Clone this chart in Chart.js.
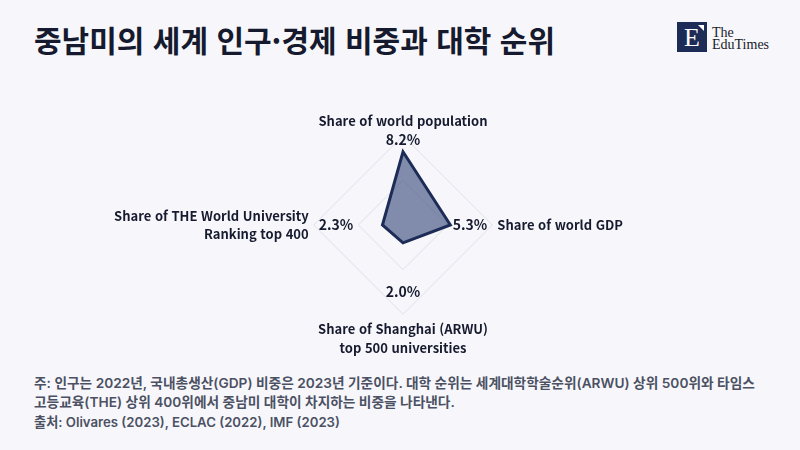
<!DOCTYPE html>
<html lang="ko">
<head>
<meta charset="utf-8">
<script src="https://cdn.jsdelivr.net/npm/chart.js@4.4.1/dist/chart.umd.min.js"></script>
<style>
  html, body { margin: 0; padding: 0; }
  body { width: 800px; height: 450px; background: #f7f7fb; position: relative; overflow: hidden; font-family: "Noto Sans CJK KR", sans-serif; }
  .title { position: absolute; left: 34px; top: 17px; font-size: 30px; font-weight: 700; color: #161a2e; }
  .logo { position: absolute; left: 677px; top: 22px; width: 30px; height: 30px; background: #1d2b57; }
  .logo .e { position: absolute; left: 0; top: 0; width: 30px; line-height: 31px; text-align: center; color: #fff; font-family: "Liberation Serif", serif; font-size: 26px; }
  .logo .notch { position: absolute; right: 3px; top: 3px; width: 0; height: 0; border-left: 6px solid transparent; border-top: 6px solid #fff; }
  .brand { position: absolute; left: 712px; top: 27px; font-family: "Liberation Serif", serif; font-size: 14px; line-height: 12px; color: #1a1a2a; }
  .chart-box { position: absolute; left: 0; top: 103px; width: 800px; height: 264px; }
  .note { position: absolute; left: 34px; top: 374px; font-family: Inter, "Noto Sans CJK KR", sans-serif; font-size: 13.7px; line-height: 19px; color: #4b5163; font-weight: 600; }
  .source { position: absolute; left: 34px; top: 412px; font-family: Inter, "Noto Sans CJK KR", sans-serif; font-size: 13.2px; color: #4b5163; font-weight: 600; }
</style>
</head>
<body>
<div class="title">중남미의 세계 인구·경제 비중과 대학 순위</div>
<div class="logo"><div class="e">E</div><div class="notch"></div></div>
<div class="brand">The<br>EduTimes</div>
<div class="chart-box"><canvas id="radar"></canvas></div>
<div class="note">주: 인구는 2022년, 국내총생산(GDP) 비중은 2023년 기준이다. 대학 순위는 세계대학학술순위(ARWU) 상위 500위와 타임스<br>고등교육(THE) 상위 400위에서 중남미 대학이 차지하는 비중을 나타낸다.</div>
<div class="source">출처: Olivares (2023), ECLAC (2022), IMF (2023)</div>
<script>
// categories (clockwise from top)
const axisLabels = [
    'Share of world population',
    'Share of world GDP',
    ['Share of Shanghai (ARWU)', 'top 500 universities'],
    ['Share of THE World University', 'Ranking top 400']
];
// Latin America share, %
const shareValues = [8.2, 5.3, 2.0, 2.3];
const scaleMax = 10;
const scaleStep = 5;

// value labels drawn next to each vertex
const valueLabelPlugin = {
    id: 'valueLabels',
    afterDatasetsDraw(chart) {
        const scale = chart.scales.r;
        const ctx = chart.ctx;
        ctx.save();
        ctx.font = 'bold 14px "Noto Sans CJK KR", sans-serif';
        ctx.fillStyle = '#161a2e';
        ctx.textAlign = 'center';
        ctx.textBaseline = 'middle';
        shareValues.forEach((v, i) => {
            const at = Math.max(v + 1.35, 7.5);
            const pos = scale.getPointPositionForValue(i, at);
            ctx.fillText(v.toFixed(1) + '%', pos.x, pos.y);
        });
        ctx.restore();
    }
};

const ctx = document.getElementById('radar').getContext('2d');
new Chart(ctx, {
    type: 'radar',
    data: {
        labels: axisLabels,
        datasets: [{
            data: shareValues,
            backgroundColor: 'rgba(32, 52, 110, 0.55)',
            borderColor: '#1d2b57',
            borderWidth: 3,
            borderJoinStyle: 'miter',
            pointRadius: 0,
            pointHoverRadius: 0
        }]
    },
    options: {
        responsive: true,
        maintainAspectRatio: false,
        animation: false,
        layout: { padding: { left: 6 } },
        plugins: {
            legend: { display: false },
            tooltip: { enabled: false }
        },
        scales: {
            r: {
                min: 0,
                max: scaleMax,
                ticks: { display: false, stepSize: scaleStep },
                angleLines: { display: false },
                grid: { color: '#dedee8', lineWidth: 1 },
                pointLabels: {
                    color: '#161a2e',
                    padding: 5,
                    font: { family: '"Noto Sans CJK KR", sans-serif', size: 13, weight: 'bold', lineHeight: 1.45 }
                }
            }
        }
    },
    plugins: [valueLabelPlugin]
});
</script>
</body>
</html>
